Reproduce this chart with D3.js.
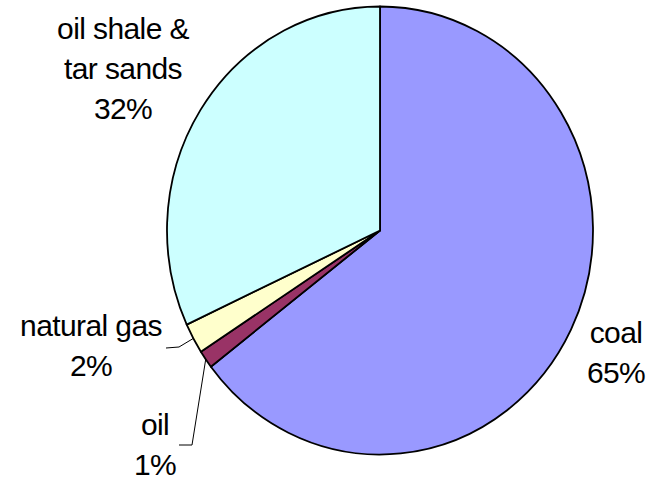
<!DOCTYPE html>
<html>
<head>
<meta charset="utf-8">
<script src="https://cdn.jsdelivr.net/npm/d3@7"></script>
<style>
  body { margin: 0; background: #fff; }
  text { font-family: "Liberation Sans", Arial, sans-serif; font-size: 30px; fill: #000; }
</style>
</head>
<body>
<div id="chart"></div>
<script>
// data (share of reserves, %)
const categories = ["coal", "oil", "natural gas", "oil shale & tar sands"];
const values = [64.6, 1.3, 2.2, 31.9];
const colors = ["#9999ff", "#993366", "#ffffcc", "#ccffff"];
// label lines (text split per line)
const labelLines = [["coal"], ["oil"], ["natural gas"], ["oil shale &", "tar sands"]];

const W = 655, H = 478;
const cx = 380, cy = 230.5, rx = 213, ry = 224;

const svg = d3.select("#chart").append("svg")
  .attr("width", W).attr("height", H);

const pie = d3.pie().sort(null).value(d => d.v)
const arcs = pie(categories.map((c, i) => ({ c: c, v: values[i], i: i })));
const arc = d3.arc().innerRadius(0).outerRadius(rx);

// pie is slightly taller than wide in the original
const g = svg.append("g")
  .attr("transform", `translate(${cx},${cy}) scale(1,${ry / rx})`);

g.selectAll("path").data(arcs).enter().append("path")
  .attr("d", arc)
  .attr("fill", d => colors[d.data.i])
  .attr("stroke", "#000")
  .attr("stroke-width", 1.8)
  .attr("vector-effect", "non-scaling-stroke")
  .attr("stroke-linejoin", "round");

// point on the rim at the middle angle of a slice
function rim(d) {
  const a = (d.startAngle + d.endAngle) / 2;
  return [cx + rx * Math.sin(a), cy - ry * Math.cos(a)];
}

// label layout: position of the text block and optional leader line
const labelPos = [
  { x: 616, y: 343, leader: null },
  { x: 155, y: 435, leader: [[192, 445], [179, 445]] },
  { x: 91, y: 336, leader: [[179, 347], [166, 348]] },
  { x: 123, y: 39, leader: null }
];
const lineH = 40;

arcs.forEach((d, k) => {
  const p = labelPos[k];
  if (p.leader) {
    const pts = [rim(d)].concat(p.leader);
    svg.append("path")
      .attr("d", d3.line()(pts))
      .attr("fill", "none")
      .attr("stroke", "#000")
      .attr("stroke-width", 1);
  }
  const lines = labelLines[k].concat([Math.round(d.data.v) + "%"]);
  const t = svg.append("text").attr("text-anchor", "middle");
  lines.forEach((s, j) => {
    t.append("tspan")
      .attr("x", p.x)
      .attr("y", p.y + j * lineH)
      .attr("letter-spacing", "-0.6px")
      .text(s);
  });
});
</script>
</body>
</html>
